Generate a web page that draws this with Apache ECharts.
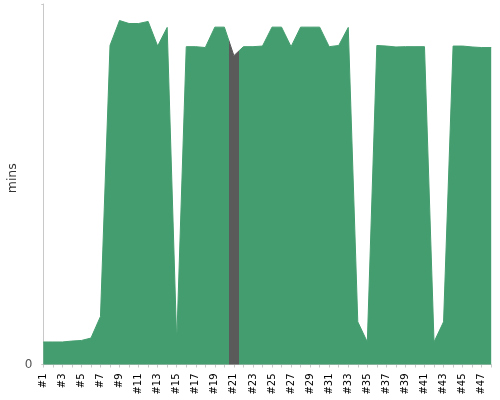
<!DOCTYPE html>
<html>
<head>
<meta charset="utf-8">
<script src="https://cdn.jsdelivr.net/npm/echarts@6/dist/echarts.min.js"></script>
<style>
  html, body { margin: 0; padding: 0; background: #fff; }
  #chart { width: 500px; height: 400px; }
</style>
</head>
<body>
<div id="chart"></div>
<script>
// build labels #1..#48
const categories = []
for (let i = 1; i <= 48; i++) categories.push('#' + i)

// minutes per build
const mins = [
  7.5, 7.5, 7.5, 7.8, 8.0, 8.8, 16, 106.2, 114.5, 113.5,
  113.5, 114.2, 106, 112.2, 7.5, 105.8, 105.8, 105.5, 112.3, 112.3,
  102.8, 105.8, 105.8, 106, 112.3, 112.3, 105.8, 112.3, 112.3, 112.3,
  105.8, 106.2, 112.2, 14.2, 7.5, 106.2, 106, 105.7, 105.8, 105.8,
  105.8, 7.5, 14.2, 106, 106, 105.7, 105.5, 105.5
]

// highlighted build (index in categories)
const highlightIndex = 20

const green = '#449d6e'
const grey = '#5a5a5a'

// series runs on a hidden value axis so the highlight band can sit
// half a step either side of the build
const points = mins.map((v, i) => [i, v])

const chart = echarts.init(document.getElementById('chart'))
chart.setOption({
  animation: false,
  grid: { left: 43.3, right: 8.8, top: 4, bottom: 35.5, containLabel: false, outerBoundsMode: 'none' },
  visualMap: {
    show: false,
    type: 'piecewise',
    seriesIndex: 0,
    dimension: 0,
    pieces: [{ gte: highlightIndex - 0.5, lte: highlightIndex + 0.5, color: grey }],
    outOfRange: { color: green }
  },
  xAxis: [
    {
      type: 'category',
      data: categories,
      boundaryGap: false,
      offset: 4,
      axisLine: { lineStyle: { color: '#c8c8c8' } },
      axisTick: { alignWithLabel: true, interval: 0, length: 3, lineStyle: { color: '#c8c8c8' } },
      axisLabel: { interval: 1, rotate: 90, fontSize: 10, color: '#000', margin: 5, fontFamily: 'DejaVu Sans' }
    },
    {
      type: 'value',
      min: 0,
      max: categories.length - 1,
      show: false
    }
  ],
  yAxis: {
    type: 'value',
    min: 0,
    max: 120,
    interval: 120,
    offset: 3,
    name: 'mins',
    nameLocation: 'middle',
    nameRotate: 90,
    nameGap: 21,
    nameMoveOverlap: false,
    nameTextStyle: { fontSize: 12.5, color: '#333', fontFamily: 'DejaVu Sans', padding: [0, 0, 0, 12] },
    axisLine: { show: true, lineStyle: { color: '#c8c8c8' } },
    axisTick: { show: true, length: 2, lineStyle: { color: '#c8c8c8' } },
    splitLine: { show: false },
    axisLabel: {
      fontSize: 12,
      color: '#555',
      margin: 8,
      fontFamily: 'DejaVu Sans',
      formatter: v => (v === 0 ? '0' : '')
    }
  },
  series: [
    {
      type: 'line',
      xAxisIndex: 1,
      data: points,
      showSymbol: false,
      symbol: 'none',
      lineStyle: { width: 1 },
      areaStyle: { opacity: 1 }
    }
  ]
})
</script>
</body>
</html>
